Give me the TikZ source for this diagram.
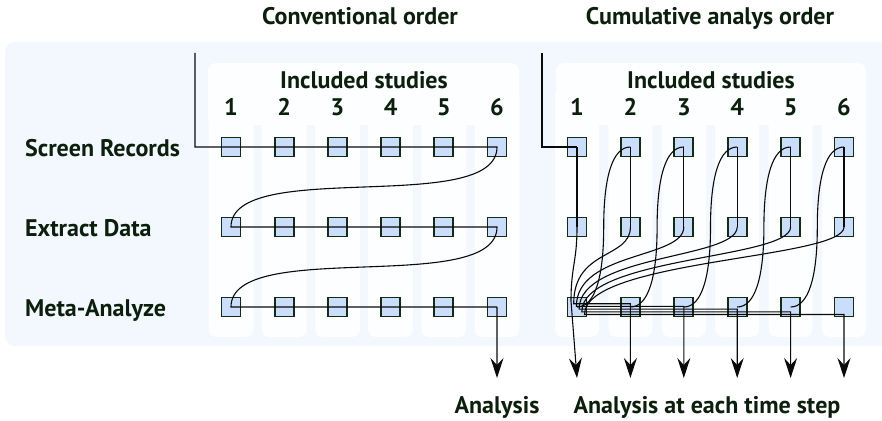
\documentclass[tikz,border=0pt]{standalone}
\usepackage{fontspec}
\setmainfont{PT Sans}
\usetikzlibrary{arrows.meta,calc}
\definecolor{txt}{RGB}{12,30,12}
\definecolor{panel}{RGB}{243,248,254}
\definecolor{colfill}{RGB}{253,254,255}
\definecolor{sqfill}{RGB}{202,222,252}
\definecolor{sqdraw}{RGB}{20,44,20}
\definecolor{ln}{RGB}{10,10,10}
\tikzset{
  sq/.style={draw=sqdraw, fill=sqfill, line width=1.7pt, minimum size=19pt, inner sep=0pt},
  lbl/.style={font=\bfseries\fontsize{24}{28}\selectfont, text=txt, inner sep=0pt},
  conn/.style={draw=ln, line width=1.1pt},
  arr/.style={conn, -{Stealth[length=20pt,width=13pt,inset=7pt]}},
  colbox/.style={fill=colfill, rounded corners=8pt},
}
\begin{document}
\begin{tikzpicture}[x=1pt,y=-1pt]
\useasboundingbox (0,0) rectangle (882,420);
% background panels
\fill[panel, rounded corners=10pt] (5,42) rectangle (900,346);
\fill[colbox] (208,63) rectangle (519,125);
\fill[colbox] (556,63) rectangle (866,125);
\foreach \i in {1,...,6}{
  \pgfmathsetmacro{\xl}{231+53.2*(\i-1)}
  \pgfmathsetmacro{\xr}{577+53.4*(\i-1)}
  \fill[colbox] (\xl-22.5,87) rectangle (\xl+22.5,337);
  \fill[colbox] (\xr-22,87) rectangle (\xr+22,337);
}
% squares
\foreach \i in {1,...,6}{
  \pgfmathsetmacro{\xl}{231+53.2*(\i-1)}
  \pgfmathsetmacro{\xr}{577+53.4*(\i-1)}
  \node[sq] (Ls\i) at (\xl,147) {};
  \node[sq] (Le\i) at (\xl,227) {};
  \node[sq] (Lm\i) at (\xl,307) {};
  \node[sq] (Rs\i) at (\xr,147) {};
  \node[sq] (Re\i) at (\xr,227) {};
  \node[sq] (Rm\i) at (\xr,307) {};
  \node[lbl, anchor=base] (Ln\i) at (\xl,115) {\i};
  \node[lbl, anchor=base] (Rn\i) at (\xr,115) {\i};
  \coordinate (Rend\i) at (\xr,378);
}
% labels
\node[lbl, anchor=base] (t1) at (360,25) {Conventional order};
\node[lbl, anchor=base] (t2) at (710,25) {Cumulative analys order};
\node[lbl, anchor=base] (inc1) at (364,88) {Included studies};
\node[lbl, anchor=base] (inc2) at (711,88) {Included studies};
\node[lbl, anchor=base west] (r1) at (25,156) {Screen Records};
\node[lbl, anchor=base west] (r2) at (25,236) {Extract Data};
\node[lbl, anchor=base west] (r3) at (25,316) {Meta-Analyze};
\node[lbl, anchor=base] (b1) at (497,413) {Analysis};
\node[lbl, anchor=base] (b2) at (707,413) {Analysis at each time step};
% left connectors
\coordinate (Lstart) at (195,53);
\coordinate (Lend) at (497,378);
\draw[conn] (Lstart) |- (Ls1.center) -- (Ls2.center) -- (Ls3.center) -- (Ls4.center) -- (Ls5.center) -- (Ls6.center)
  .. controls +(0,70) and +(0,-70) .. (Le1.center) -- (Le2.center) -- (Le3.center) -- (Le4.center) -- (Le5.center) -- (Le6.center)
  .. controls +(0,70) and +(0,-70) .. (Lm1.center) -- (Lm2.center) -- (Lm3.center) -- (Lm4.center) -- (Lm5.center) -- (Lm6.center);
\draw[arr] (Lm6.center) -- (Lend);
% right connectors
\coordinate (Rstart) at (542,53);
\foreach \k in {1,...,6}{
  \coordinate (C\k) at ($(Rm1.center)+({-6+2.7*(\k-1)},{-6+2.7*(\k-1)})$);
}
\draw[conn] (Rstart) |- (Rs1.center);
\foreach \k in {1,...,6}{
  \draw[conn] (Rs\k.center) -- (Re\k.center);
}
\draw[arr] (Re1.center) .. controls +(0,35) and +(0,-35) .. (C1) -- (Rend1);
\foreach \k in {2,...,6}{
  \draw[arr] (Re\k.center) .. controls +(0,32) and +(0,-55) .. (C\k) -- (C\k -| Rm\k.center) -- (Rend\k);
}
\foreach \k [evaluate=\k as \p using int(\k-1)] in {2,...,6}{
  \coordinate (M\k) at ($(Rm\p.center)!0.5!(Rs\k.center)$);
  \draw[conn] (Rm\p.center) .. controls +(18,0) and +(0,50) .. (M\k) .. controls +(0,-50) and +(-18,0) .. (Rs\k.center);
}
\end{tikzpicture}
\end{document}
